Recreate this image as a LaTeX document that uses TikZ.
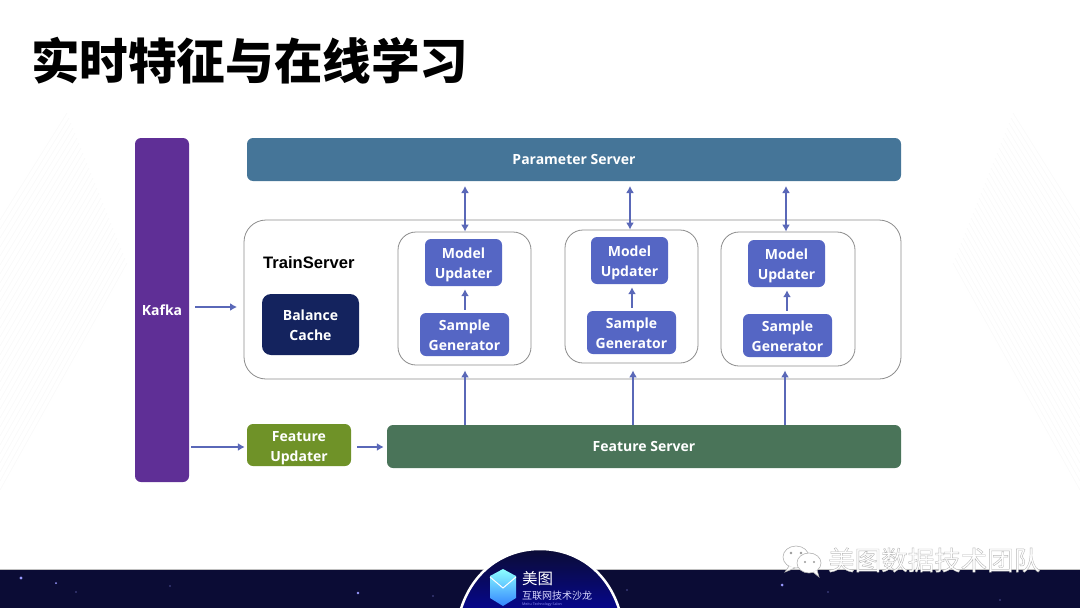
\documentclass[tikz,border=0pt]{standalone}
\usepackage{fontspec}
\setmainfont{Open Sans}
\newfontfamily\cjkfont{Noto Sans CJK SC}
\newfontfamily\labelfont{Liberation Sans}
\usetikzlibrary{arrows.meta}
\definecolor{kafkacol}{HTML}{5F2F96}
\definecolor{paramcol}{HTML}{457598}
\definecolor{workercol}{HTML}{5566C4}
\definecolor{cachecol}{HTML}{14235E}
\definecolor{updatecol}{HTML}{6F9228}
\definecolor{featurecol}{HTML}{4A7459}
\definecolor{linkcol}{HTML}{5A68B8}
\definecolor{bandcol}{HTML}{0B0C35}
\newcommand{\lift}[1]{\rule{0pt}{#1pt}}
\tikzset{
  block/.style={rounded corners=6,inner sep=0pt,text=white,align=center,
    font=\bfseries\fontsize{14}{20}\selectfont},
  frame/.style={draw=black!45,fill=white,line width=0.8pt},
  link/.style={draw=linkcol,line width=2.2pt,-{Latex[length=7pt,width=8pt]}},
  twolink/.style={link,{Latex[length=7pt,width=8pt]}-{Latex[length=7pt,width=8pt]}},
  star/.style={fill=#1,draw=none},
  ray/.style={draw=black!2.5,line width=0.7pt},
}
\begin{document}
\begin{tikzpicture}[x=1pt,y=-1pt]
  \useasboundingbox (0,0) rectangle (1080,608);
  \clip (0,0) rectangle (1080,608);
  % faint rays at the sides
  \foreach \i in {0,...,30}{
    \draw[ray] (0,490-9*\i) -- ++(127-\i*2,-227+\i*4);
    \draw[ray] (1080,490-9*\i) -- ++(-127+\i*2,-227+\i*4);
  }
  \node[anchor=west,inner sep=0pt,font=\cjkfont\bfseries\fontsize{48.6}{49}\selectfont] (title) at (31,61) {实时特征与在线学习};
  % left and top blocks
  \node[block,fill=kafkacol,minimum width=54,minimum height=344] (kafka) at (162,310) {Kafka};
  \node[block,fill=paramcol,minimum width=654,minimum height=43] (param) at (574,159.5) {Parameter Server};
  % train server
  \node[frame,rounded corners=22,minimum width=657,minimum height=159] (train) at (572.5,299.5) {};
  \node[anchor=west,inner sep=0pt,font=\labelfont\bfseries\fontsize{16.6}{18}\selectfont] (trainname) at (263,263) {TrainServer};
  \node[block,rounded corners=9,fill=cachecol,minimum width=97,minimum height=61] (cache) at (310.5,324.5) {\lift{13}Balance\\Cache};
  \node[frame,rounded corners=18,minimum width=133,minimum height=133] (innerA) at (464.5,298.5) {};
  \node[frame,rounded corners=18,minimum width=133,minimum height=133] (innerB) at (631.5,296.5) {};
  \node[frame,rounded corners=18,minimum width=134,minimum height=134] (innerC) at (788,299) {};
  \node[block,fill=workercol,minimum width=77,minimum height=47] (modelA) at (463.5,262.5) {\lift{15}Model\\Updater};
  \node[block,fill=workercol,minimum width=89,minimum height=43] (sampleA) at (464.5,334.5) {\lift{13}Sample\\Generator};
  \node[block,fill=workercol,minimum width=77,minimum height=47] (modelB) at (629.5,260.5) {\lift{15}Model\\Updater};
  \node[block,fill=workercol,minimum width=89,minimum height=43] (sampleB) at (631.5,332.5) {\lift{13}Sample\\Generator};
  \node[block,fill=workercol,minimum width=77,minimum height=47] (modelC) at (786.5,263.5) {\lift{15}Model\\Updater};
  \node[block,fill=workercol,minimum width=89,minimum height=43] (sampleC) at (787.5,335.5) {\lift{12}Sample\\Generator};
  % bottom blocks
  \node[block,fill=updatecol,minimum width=104,minimum height=42] (update) at (299,445) {\lift{17}Feature\\Updater};
  \node[block,fill=featurecol,minimum width=514,minimum height=43] (feature) at (644,446.5) {Feature Server};
  % arrows
  \coordinate (topA) at (465,186);
  \coordinate (topB) at (630,186);
  \coordinate (topC) at (786,186);
  \draw[twolink] (topA) -- (innerA.north -| topA);
  \draw[twolink] (topB) -- (innerB.north -| topB);
  \draw[twolink] (topC) -- (innerC.north -| topC);
  \coordinate (kafkaA) at (195,307);
  \coordinate (kafkaB) at (191,447);
  \draw[link] (kafkaA) -- (237,307);
  \draw[link,shorten >=2pt] (kafkaB) -- (update.west |- kafkaB);
  \draw[link,shorten <=6pt,shorten >=3pt] (update.east |- kafkaB) -- (feature.west |- kafkaB);
  \foreach \w/\x in {A/465,B/632,C/787}{
    \draw[link,shorten <=3pt,shorten >=3pt] (sample\w.north -| \x,0) -- (model\w.south -| \x,0);
  }
  \draw[link,shorten >=5pt] (feature.north -| 465,0) -- (innerA.south -| 465,0);
  \draw[link,shorten >=7pt] (feature.north -| 633,0) -- (innerB.south -| 633,0);
  \draw[link,shorten >=4pt] (feature.north -| 785,0) -- (innerC.south -| 785,0);
  % footer band
  \fill[bandcol] (0,570) rectangle (1080,608);
  \draw[black!25,line width=0.8pt] (0,569.5) -- (1080,569.5);
  \foreach \x/\y/\r in {21/578/1.7,56/583/1,76/592/0.7,170/586/0.6,358/593/1.3,433/596/0.7,782/585/1.5,828/592/0.7,627/590/0.6,1000/600/0.6}{
    \fill[star=blue!40!white] (\x,\y) circle (\r);
  }
  % logo arch
  \shade[top color=bandcol,bottom color=blue!45!bandcol,draw=white,line width=2.5pt]
    (460,612) .. controls (472,570) and (505,549) .. (540,549) .. controls (575,549) and (608,570) .. (620,612) -- cycle;
  \shade[top color=cyan!45!white,bottom color=blue!60!cyan!80!white]
    (503,569) -- (516,576) -- (516,598) -- (503,606) -- (490,598) -- (490,576) -- cycle;
  \draw[white,line width=1pt] (490,577) -- (503,588) -- (516,577);
  \node[anchor=west,inner sep=0pt,text=white,font=\cjkfont\fontsize{15.5}{16}\selectfont] (logoname) at (522,579) {美图};
  \node[anchor=west,inner sep=0pt,text=white!85!blue,font=\cjkfont\fontsize{10}{10}\selectfont] (logosalon) at (522,595.5) {互联网技术沙龙};
  \node[anchor=west,inner sep=0pt,text=white!60!blue,font=\fontsize{3.6}{4}\selectfont] (logolatin) at (522,604.5) {Meitu Technology Salon};
  % watermark
  \node[anchor=west,inner sep=0pt,font=\cjkfont\fontsize{26.5}{27}\selectfont] (mark) at (828,560)
    {\special{pdf:code 2 Tr 0.4 w 0.72 G 1 g}美图数据技术团队\special{pdf:code 0 Tr 0 g 0 G}};
  \draw[black!30,fill=white,line width=0.6pt] (796,557) ellipse (13 and 11);
  \draw[black!30,fill=white,line width=0.6pt] (789,566) -- (785,572) -- (795,568);
  \draw[black!30,fill=white,line width=0.6pt] (809,563) ellipse (12 and 10);
  \draw[black!30,fill=white,line width=0.6pt] (813,572) -- (819,577) -- (817,570);
  \fill[black!40] (791,553) circle (1.3) (801,553) circle (1.3) (805,562) circle (1.1) (814,562) circle (1.1);
\end{tikzpicture}
\end{document}
